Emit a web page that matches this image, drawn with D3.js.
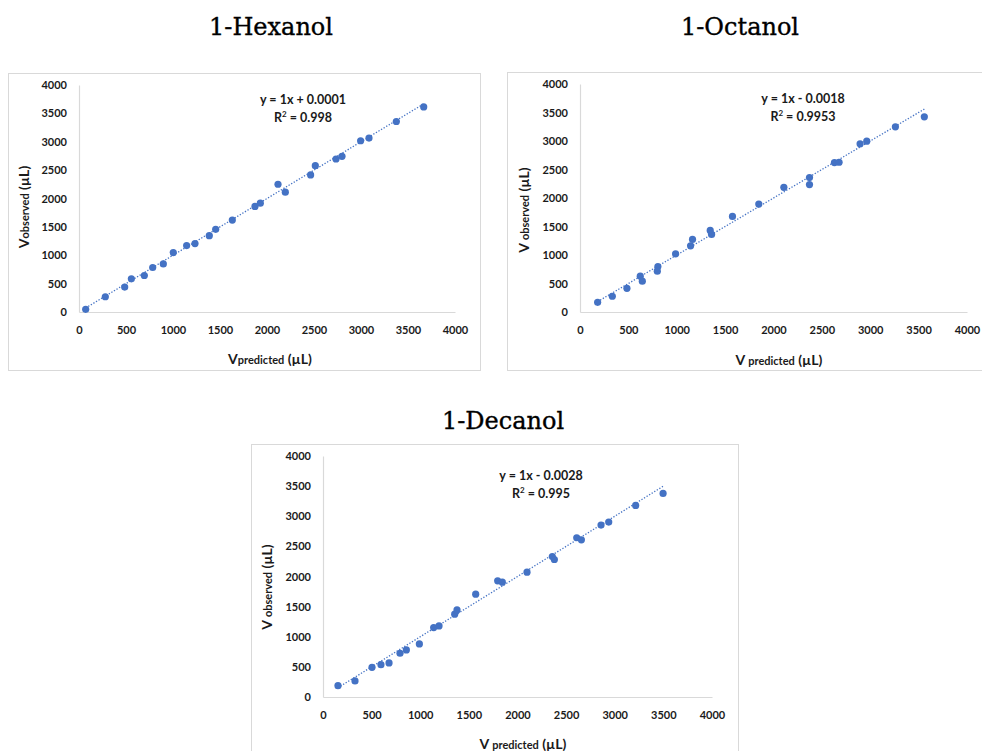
<!DOCTYPE html>
<html>
<head>
<meta charset="utf-8">
<script src="https://cdn.jsdelivr.net/npm/d3@7"></script>
<style>
  html, body { margin: 0; padding: 0; background: #fff; }
  svg { display: block; }
</style>
</head>
<body>
<svg id="chart" width="982" height="751"></svg>
<script>
// Predicted vs. observed volumes (µL) for three alcohols
const hexanolPredicted = [71, 280, 486, 557, 695, 784, 897, 1003, 1145, 1234, 1386, 1454, 1631, 1872, 1929, 2117, 2195, 2464, 2514, 2734, 2798, 2996, 3085, 3376, 3667];
const hexanolObserved  = [47, 269, 439, 585, 643, 784, 848, 1047, 1170, 1205, 1345, 1456, 1620, 1860, 1918, 2251, 2111, 2415, 2579, 2696, 2743, 3018, 3064, 3357, 3614];

const octanolPredicted = [182, 334, 485, 623, 644, 805, 799, 988, 1143, 1163, 1346, 1360, 1576, 1848, 2107, 2372, 2372, 2630, 2678, 2895, 2964, 3260, 3559];
const octanolObserved  = [170, 276, 416, 628, 540, 798, 716, 1021, 1161, 1273, 1431, 1361, 1677, 1894, 2188, 2358, 2235, 2622, 2627, 2950, 2997, 3249, 3425];

const decanolPredicted = [154, 329, 504, 596, 679, 792, 857, 991, 1138, 1193, 1354, 1378, 1570, 1796, 1844, 2098, 2358, 2379, 2609, 2657, 2859, 2938, 3215, 3497];
const decanolObserved  = [188, 266, 493, 537, 565, 726, 781, 881, 1152, 1180, 1374, 1446, 1706, 1928, 1906, 2072, 2332, 2282, 2643, 2609, 2853, 2903, 3180, 3379];

// Linear trendline parameters (y = slope·x + intercept) and fit quality
const trendSlopes     = [1, 1, 1];
const trendIntercepts = [0.0001, -0.0018, -0.0028];
const rSquared        = ["0.998", "0.9953", "0.995"];

const panelTitles = ["1-Hexanol", "1-Octanol", "1-Decanol"];
const axisTicks = [0, 500, 1000, 1500, 2000, 2500, 3000, 3500, 4000];

const series = [
  { x: hexanolPredicted, y: hexanolObserved },
  { x: octanolPredicted, y: octanolObserved },
  { x: decanolPredicted, y: decanolObserved }
];

// Layout of each panel on the page
const layout = [
  { frame: [8, 73, 472, 297],  plot: [79, 455, 85, 312],  title: [271, 35],
    eq: [303, 104], xt: [270, 364], yt: [29, 207], spaced: false },
  { frame: [507, 72, 490, 298], plot: [580, 967, 84, 312], title: [740, 35],
    eq: [803, 103], xt: [779, 365], yt: [529, 210], spaced: true },
  { frame: [251, 444, 487, 320], plot: [323, 712, 456, 697], title: [503, 429],
    eq: [541, 480], xt: [523, 749], yt: [272, 587], spaced: true }
];

const BLUE = "#4472C4";
const TEXT = "#1a1a1a";
const FONT = "Lato, 'Open Sans', sans-serif";
const svg = d3.select("#chart");

function fmtIntercept(b) {
  const s = Math.abs(b).toFixed(4);
  return b < 0 ? "- " + s : "+ " + s;
}

series.forEach((s, i) => {
  const L = layout[i];
  const g = svg.append("g");

  // chart frame
  g.append("rect")
    .attr("x", L.frame[0] + 0.5).attr("y", L.frame[1] + 0.5)
    .attr("width", L.frame[2]).attr("height", L.frame[3])
    .attr("fill", "#fff").attr("stroke", "#d9d9d9").attr("stroke-width", 1);

  // panel heading
  svg.append("text")
    .attr("x", L.title[0]).attr("y", L.title[1])
    .attr("text-anchor", "middle")
    .attr("font-family", "'DejaVu Serif', 'Liberation Serif', serif")
    .attr("font-size", 24)
    .attr("fill", "#000")
    .attr("stroke", "#000").attr("stroke-width", 0.35)
    .text(panelTitles[i]);

  const x = d3.scaleLinear().domain([0, 4000]).range([L.plot[0], L.plot[1]]);
  const y = d3.scaleLinear().domain([0, 4000]).range([L.plot[3], L.plot[2]]);

  // axes: lines only, no tick marks
  const xAxis = d3.axisBottom(x).tickValues(axisTicks).tickSize(0).tickPadding(14).tickFormat(d3.format("d"));
  const yAxis = d3.axisLeft(y).tickValues(axisTicks).tickSize(0).tickPadding(12).tickFormat(d3.format("d"));

  const gx = g.append("g").attr("transform", `translate(0,${L.plot[3]})`).call(xAxis);
  const gy = g.append("g").attr("transform", `translate(${L.plot[0]},0)`).call(yAxis);
  [gx, gy].forEach(a => {
    a.select(".domain").attr("stroke", "#d9d9d9").attr("stroke-width", 1.2);
    a.selectAll("text")
      .attr("font-family", FONT).attr("font-size", 11).attr("font-weight", "bold")
      .attr("fill", TEXT);
  });
  gx.selectAll("text").attr("dy", "0.71em");

  // trendline across the data range
  const xs = d3.extent(s.x);
  const line = d3.line().x(d => x(d)).y(d => y(trendSlopes[i] * d + trendIntercepts[i]));
  g.append("path")
    .datum(xs)
    .attr("d", line)
    .attr("fill", "none")
    .attr("stroke", BLUE)
    .attr("stroke-width", 1.3)
    .attr("stroke-dasharray", "1.3,1.7");

  // observations
  g.selectAll("circle.pt")
    .data(s.x.map((v, k) => [v, s.y[k]]))
    .join("circle")
    .attr("class", "pt")
    .attr("cx", d => x(d[0])).attr("cy", d => y(d[1]))
    .attr("r", 3.6)
    .attr("fill", BLUE);

  // trendline equation
  const eq = g.append("text")
    .attr("x", L.eq[0]).attr("y", L.eq[1])
    .attr("text-anchor", "middle")
    .attr("font-family", FONT).attr("font-size", 12.5).attr("font-weight", "bold")
    .attr("fill", TEXT);
  eq.append("tspan").text(`y = ${trendSlopes[i]}x ${fmtIntercept(trendIntercepts[i])}`);
  const r2 = g.append("text")
    .attr("x", L.eq[0]).attr("y", L.eq[1] + 18)
    .attr("text-anchor", "middle")
    .attr("font-family", FONT).attr("font-size", 12.5).attr("font-weight", "bold")
    .attr("fill", TEXT);
  r2.append("tspan").text("R");
  r2.append("tspan").attr("font-size", 8).attr("dy", -5).text("2");
  r2.append("tspan").attr("dy", 5).text(` = ${rSquared[i]}`);

  // axis titles: V with a smaller subscript word
  function axisTitle(sel, word) {
    sel.attr("text-anchor", "middle")
      .attr("font-family", FONT).attr("font-weight", "bold").attr("fill", TEXT);
    sel.append("tspan").attr("font-size", 14).text(L.spaced ? "V " : "V");
    sel.append("tspan").attr("font-size", 11).text(word);
    sel.append("tspan").attr("font-size", 14).text(" (µL)");
  }
  axisTitle(g.append("text").attr("x", L.xt[0]).attr("y", L.xt[1]), "predicted");
  axisTitle(
    g.append("text").attr("transform", `translate(${L.yt[0]},${L.yt[1]}) rotate(-90)`),
    "observed"
  );
});
</script>
</body>
</html>
